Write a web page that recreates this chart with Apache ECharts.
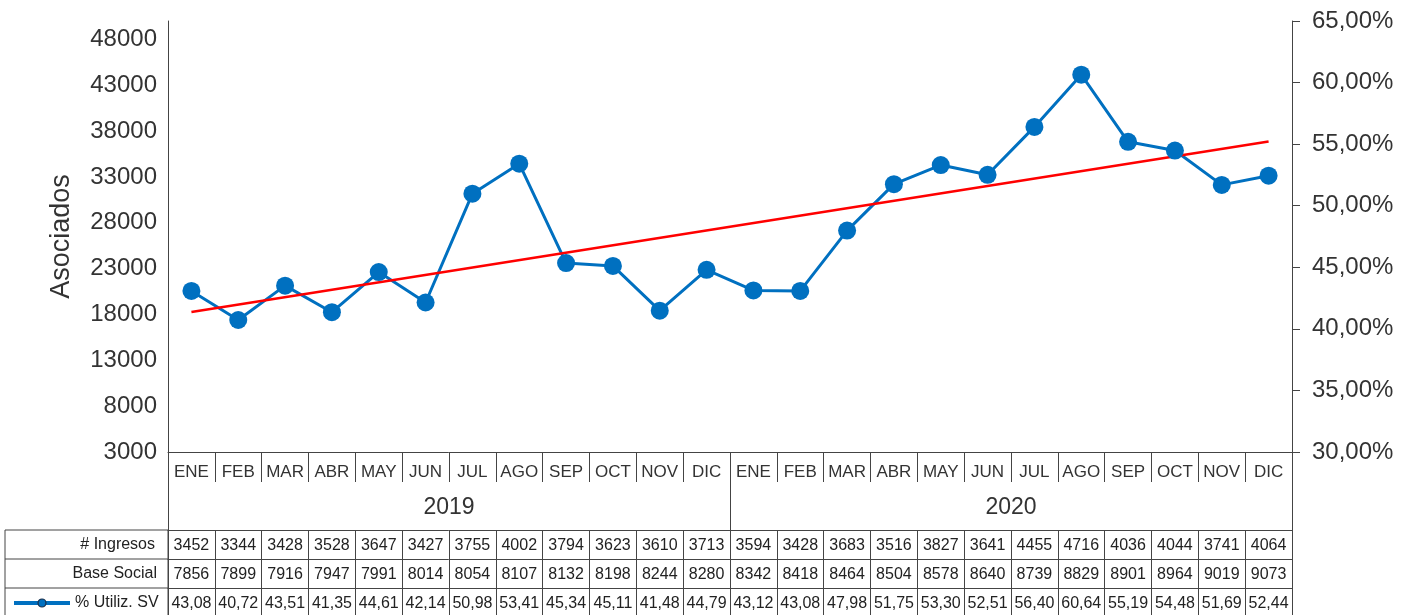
<!DOCTYPE html>
<html>
<head>
<meta charset="utf-8">
<script src="https://cdn.jsdelivr.net/npm/echarts@6/dist/echarts.min.js"></script>
<style>
  html, body { margin: 0; padding: 0; background: #fff; }
  #chart { width: 1413px; height: 615px; }
</style>
</head>
<body>
<div id="chart"></div>
<script>
// datos
const years = ['2019', '2020'];
const months = ['ENE', 'FEB', 'MAR', 'ABR', 'MAY', 'JUN', 'JUL', 'AGO', 'SEP', 'OCT', 'NOV', 'DIC'];
const ingresos = [3452, 3344, 3428, 3528, 3647, 3427, 3755, 4002, 3794, 3623, 3610, 3713,
                  3594, 3428, 3683, 3516, 3827, 3641, 4455, 4716, 4036, 4044, 3741, 4064];
const baseSocial = [7856, 7899, 7916, 7947, 7991, 8014, 8054, 8107, 8132, 8198, 8244, 8280,
                    8342, 8418, 8464, 8504, 8578, 8640, 8739, 8829, 8901, 8964, 9019, 9073];
const utilizSV = [43.08, 40.72, 43.51, 41.35, 44.61, 42.14, 50.98, 53.41, 45.34, 45.11, 41.48, 44.79,
                  43.12, 43.08, 47.98, 51.75, 53.30, 52.51, 56.40, 60.64, 55.19, 54.48, 51.69, 52.44];
// tendencia lineal (extremos)
const trendEnds = [41.37, 55.21];

const categories = [];
years.forEach(y => months.forEach(m => categories.push(m + ' ' + y)));

const FONT = '"Liberation Sans", Arial, sans-serif';
const TXT = '#333';
const LINE = '#444';
const BLUE = '#0070C0';

const fmtPct = v => v.toFixed(2).replace('.', ',');

// fila de tabla como eje categorico extra
function tableAxis(offset, len, formatter) {
    return {
        type: 'category', gridIndex: 0, position: 'bottom', offset: offset,
        data: categories,
        axisLine: { show: true, lineStyle: { color: LINE, width: 1 } },
        axisTick: { show: true, interval: 0, length: len, lineStyle: { color: LINE, width: 1 } },
        axisLabel: {
            interval: 0, margin: 8, fontSize: 16, color: '#222', fontFamily: FONT,
            formatter: (v, i) => formatter(i)
        },
        splitLine: { show: false }
    };
}

const chart = echarts.init(document.getElementById('chart'));

chart.setOption({
    animation: false,
    textStyle: { fontFamily: FONT },
    grid: { left: 168, right: 121, top: 21, bottom: 163, containLabel: false },
    legend: {
        data: ['% Utiliz. SV'],
        left: 12, top: 595, padding: 0,
        itemWidth: 56, itemHeight: 10, itemGap: 4,
        lineStyle: { width: 4 },
        itemStyle: { borderColor: '#1a2f4a', borderWidth: 1.2 },
        textStyle: { fontSize: 16, color: '#222', fontFamily: FONT }
    },
    xAxis: [
        {
            type: 'category', data: categories,
            axisLine: { show: true, lineStyle: { color: LINE, width: 1 } },
            axisTick: { show: true, interval: 0, length: 30, lineStyle: { color: LINE, width: 1 } },
            axisLabel: {
                interval: 0, margin: 12, fontSize: 17, color: TXT, fontFamily: FONT,
                formatter: v => v.split(' ')[0]
            }
        },
        {
            type: 'category', position: 'bottom', data: years,
            axisLine: { show: false },
            axisTick: { show: true, interval: 0, length: 78, lineStyle: { color: LINE, width: 1 } },
            axisLabel: { interval: 0, margin: 44, fontSize: 23, color: TXT, fontFamily: FONT }
        },
        tableAxis(78, 29, i => String(ingresos[i])),
        tableAxis(107, 29, i => String(baseSocial[i])),
        tableAxis(136, 28, i => fmtPct(utilizSV[i]))
    ],
    yAxis: [
        {
            type: 'value', min: 3000, max: 50000, interval: 5000,
            name: 'Asociados', nameLocation: 'middle', nameGap: 93,
            nameTextStyle: { fontSize: 27, color: TXT, fontFamily: FONT },
            axisLine: { show: true, lineStyle: { color: LINE, width: 1 } },
            axisTick: { show: false },
            axisLabel: { margin: 11, fontSize: 24, color: TXT, fontFamily: FONT, showMaxLabel: false,
                         formatter: v => String(v) },
            splitLine: { show: false }
        },
        {
            type: 'value', min: 30, max: 65, interval: 5, position: 'right',
            axisLine: { show: true, lineStyle: { color: LINE, width: 1 } },
            axisTick: { show: true, length: 8, lineStyle: { color: LINE } },
            axisLabel: { margin: 20, fontSize: 24, color: TXT, fontFamily: FONT,
                         formatter: v => fmtPct(v) + '%' },
            splitLine: { show: false }
        }
    ],
    series: [
        {
            name: '% Utiliz. SV', type: 'line', xAxisIndex: 0, yAxisIndex: 1,
            data: utilizSV,
            symbol: 'circle', symbolSize: 18,
            lineStyle: { color: BLUE, width: 3 },
            itemStyle: { color: BLUE }
        },
        {
            name: 'Tendencia', type: 'line', xAxisIndex: 0, yAxisIndex: 1,
            data: [[0, trendEnds[0]], [categories.length - 1, trendEnds[1]]],
            symbol: 'none', z: 3,
            lineStyle: { color: '#FF0000', width: 2.5 }
        }
    ],
    graphic: [
        { type: 'rect', shape: { x: 5, y: 530, width: 163, height: 90 },
          style: { fill: 'none', stroke: LINE, lineWidth: 1 } },
        { type: 'line', shape: { x1: 5, y1: 559, x2: 168, y2: 559 }, style: { stroke: LINE, lineWidth: 1 } },
        { type: 'line', shape: { x1: 5, y1: 588, x2: 168, y2: 588 }, style: { stroke: LINE, lineWidth: 1 } },
        { type: 'text', x: 155, y: 545,
          style: { text: '# Ingresos', fill: '#222', font: '16px ' + FONT, textAlign: 'right', textVerticalAlign: 'middle' } },
        { type: 'text', x: 157, y: 574,
          style: { text: 'Base Social', fill: '#222', font: '16px ' + FONT, textAlign: 'right', textVerticalAlign: 'middle' } }
    ]
});
</script>
</body>
</html>
